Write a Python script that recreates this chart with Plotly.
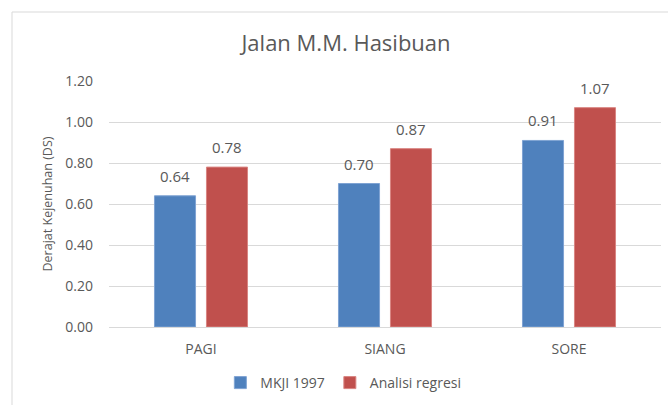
import plotly.graph_objects as go

categories = ["PAGI", "SIANG", "SORE"]
mkji_1997 = [0.64, 0.70, 0.91]
analisi_regresi = [0.78, 0.87, 1.07]
y_ticks = [0.0, 0.2, 0.4, 0.6, 0.8, 1.0, 1.2]

FONT = "Open Sans"
GREY = "#595959"
BAR_OFFSET_PX = 26  # half of a bar slot inside a group

fig = go.Figure()
fig.add_trace(go.Bar(
    name="MKJI 1997", x=categories, y=mkji_1997,
    marker=dict(color="#4F81BD", line=dict(color="#7FA3D3", width=1)),
))
fig.add_trace(go.Bar(
    name="Analisi regresi", x=categories, y=analisi_regresi,
    marker=dict(color="#C0504D", line=dict(color="#D98582", width=1)),
))

annotations = []
for series, shift in ((mkji_1997, -BAR_OFFSET_PX), (analisi_regresi, BAR_OFFSET_PX)):
    for cat, val in zip(categories, series):
        annotations.append(dict(
            x=cat, y=val, xref="x", yref="y", text=f"{val:.2f}",
            showarrow=False, xshift=shift, yshift=8, yanchor="bottom",
            font=dict(family=FONT, size=15, color=GREY),
        ))

fig.update_layout(
    width=668, height=405,
    margin=dict(l=109, r=7, t=81, b=78),
    paper_bgcolor="white", plot_bgcolor="white",
    font=dict(family=FONT, color=GREY),
    title=dict(text="Jalan M.M. Hasibuan", font=dict(family=FONT, size=22, color=GREY),
               x=0.518, xanchor="center", xref="container",
               y=1 - 43 / 405, yanchor="middle", yref="container"),
    barmode="group", bargap=0.435, bargroupgap=0.21,
    showlegend=True,
    legend=dict(orientation="h", xref="container", x=0.514, xanchor="center",
                yref="container", y=1 - 383 / 405, yanchor="middle",
                font=dict(family=FONT, size=14, color=GREY),
                itemwidth=30, traceorder="normal"),
    xaxis=dict(showgrid=False, showline=False, ticks="", ticklabelstandoff=12,
               tickfont=dict(family=FONT, size=14, color=GREY)),
    yaxis=dict(range=[0, 1.2], tickvals=y_ticks, tickformat=".2f",
               showgrid=True, gridcolor="#D9D9D9", gridwidth=1,
               zeroline=True, zerolinecolor="#D9D9D9", zerolinewidth=1,
               showline=False, ticks="", ticklabelstandoff=15,
               tickfont=dict(family=FONT, size=14, color=GREY),
               title=dict(text="Derajat Kejenuhan (DS)", standoff=9,
                          font=dict(family=FONT, size=12.5, color=GREY))),
    annotations=annotations,
    shapes=[
        dict(type="line", xref="paper", yref="paper",
             x0=(12 - 109) / 552, x1=(700 - 109) / 552,
             y0=(405 - 78 - 12) / 246, y1=(405 - 78 - 12) / 246,
             line=dict(color="#D9D9D9", width=1)),
        dict(type="line", xref="paper", yref="paper",
             x0=(12 - 109) / 552, x1=(12 - 109) / 552,
             y0=(405 - 78 - 12) / 246, y1=(405 - 78 - 420) / 246,
             line=dict(color="#D9D9D9", width=1)),
    ],
)

fig.write_html("out.html", config={"displayModeBar": False},
               post_script="document.body.style.margin='0';")
